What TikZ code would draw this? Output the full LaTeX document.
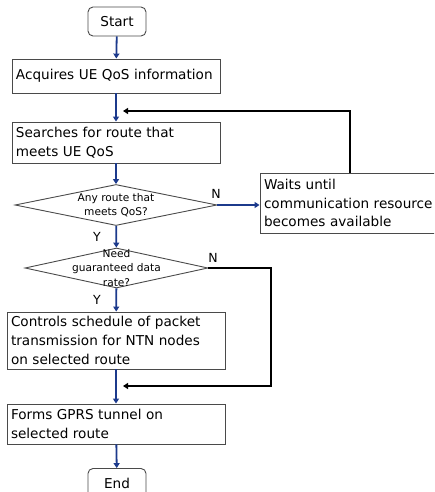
\documentclass[tikz,border=0pt]{standalone}
\usepackage{fontspec}
\setmainfont{DejaVu Sans}
\usetikzlibrary{shapes.geometric,arrows.meta}
\definecolor{flowblue}{HTML}{1C3A8C}
\definecolor{boxline}{HTML}{4A4A4A}
\tikzset{
  stepbox/.style={draw=boxline, line width=0.9pt, rectangle, inner sep=4pt, align=left,
    font=\fontsize{13.6}{18.7}\selectfont, anchor=center},
  termbox/.style={draw=boxline, line width=0.9pt, rectangle, rounded corners=5pt,
    minimum width=58pt, minimum height=29pt, font=\fontsize{13.6}{15}\selectfont},
  decision/.style={draw=boxline, line width=0.9pt, diamond, inner sep=0pt},
  dtext/.style={align=center, font=\fontsize{10.6}{14.5}\selectfont, inner sep=0pt},
  flow/.style={draw=flowblue, line width=1.8pt, -{Triangle[length=5pt,width=6pt]}},
  loopback/.style={draw=black, line width=2.2pt, -{Triangle[length=5pt,width=6pt]}},
  yn/.style={font=\fontsize{12.5}{14}\selectfont, inner sep=0pt}
}
\begin{document}
\begin{tikzpicture}[x=1pt,y=-1pt]
\clip (0,0) rectangle (434,492);
\useasboundingbox (0,0) rectangle (434,492);

% process boxes
\node[termbox] (start) at (117,21.5) {Start};
\node[stepbox, minimum width=208pt, minimum height=34pt, text width=200pt] (acq) at (116,76)
  {Acquires UE QoS information};
\node[stepbox, minimum width=208pt, minimum height=41pt, text width=200pt] (search) at (116,142.5)
  {Searches for route that\\meets UE QoS};
\node[decision, minimum width=202pt, minimum height=41pt] (d1) at (116,205) {};
\node[dtext] (d1t) at (d1.center) {Any route that\\meets QoS?};
\node[stepbox, minimum width=180pt, minimum height=60pt, text width=172pt] (waits) at (350,203)
  {Waits until\\communication resource\\becomes available};
\node[decision, minimum width=183pt, minimum height=40pt] (d2) at (116.5,268) {};
\node[dtext] (d2t) at (d2.center) {Need\\guaranteed data\\rate?};
\node[stepbox, minimum width=218pt, minimum height=57pt, text width=210pt] (ctrl) at (116,340.5)
  {Controls schedule of packet\\transmission for NTN nodes\\on selected route};
\node[stepbox, minimum width=218pt, minimum height=40pt, text width=210pt] (forms) at (116,424)
  {Forms GPRS tunnel on\\selected route};
\node[termbox] (end) at (117,483) {End};

% merge points of the return lines
\coordinate (loopin) at (123,111);
\coordinate (skipin) at (123,386);

% main flow
\draw[flow] (start) -- (acq);
\draw[flow] (acq) -- (search);
\draw[flow] (search) -- (d1);
\draw[flow] (d1.east) -- (d1.east -| waits.west);
\draw[flow] (d1) -- (d2);
\draw[flow] (d2) -- (ctrl);
\draw[flow] (ctrl) -- (forms);
\draw[flow] (forms) -- (end);

% return and skip lines
\draw[loopback] (waits.north) |- (loopin);
\draw[loopback] (d2.east) -- (271,268) |- (skipin);

% branch labels
\node[yn] (n1) at (216,194) {N};
\node[yn] (y1) at (97,237) {Y};
\node[yn] (n2) at (213,258) {N};
\node[yn] (y2) at (97,300) {Y};
\end{tikzpicture}
\end{document}
